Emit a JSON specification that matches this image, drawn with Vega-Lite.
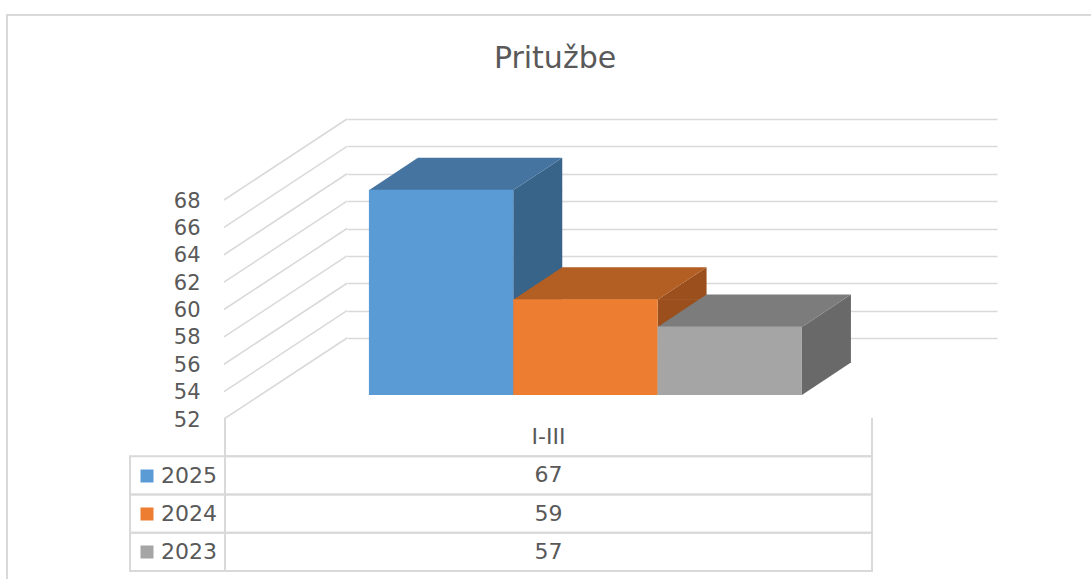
{
  "$schema": "https://vega.github.io/schema/vega-lite/v6.json",
  "width": 650,
  "height": 219,
  "autosize": "none",
  "padding": {"left": 347, "top": 119, "right": 94, "bottom": 241},
  "background": "white",
  "config": {
    "view": {"stroke": null},
    "font": "DejaVu Sans",
    "axisY": {
      "title": null, "domain": false, "ticks": false, "tickSize": 0,
      "grid": true, "gridColor": "#d9d9d9", "gridWidth": 1.5,
      "labelFont": "DejaVu Sans", "labelFontSize": 21, "labelColor": "#595959",
      "labelOffset": 82, "labelPadding": 147
    }
  },
  "datasets": {
    "complaints": [
      {"year": "2025", "value": 67, "period": "I-III"},
      {"year": "2024", "value": 59, "period": "I-III"},
      {"year": "2023", "value": 57, "period": "I-III"}
    ],
    "ticks": [
      {"tick": 52}, {"tick": 54}, {"tick": 56}, {"tick": 58}, {"tick": 60},
      {"tick": 62}, {"tick": 64}, {"tick": 66}, {"tick": 68}
    ],
    "header": [{"period": "I-III"}]
  },
  "title": {
    "text": "Pritužbe",
    "font": "DejaVu Sans",
    "fontSize": 30,
    "fontWeight": "normal",
    "color": "#595959",
    "anchor": "middle",
    "frame": "group",
    "dx": -117,
    "offset": -84,
    "baseline": "alphabetic"
  },
  "layer": [
    {
      "encoding": {
        "y": {
          "type": "quantitative",
          "scale": {"domain": [52, 68], "nice": false, "zero": false},
          "axis": {"title": null, "values": [52, 54, 56, 58, 60, 62, 64, 66, 68]}
        }
      },
      "layer": [
        {
          "data": {"name": "ticks"},
          "mark": {"type": "rule", "color": "#d9d9d9", "strokeWidth": 1.5, "xOffset": -123, "yOffset": 81},
          "encoding": {
            "x": {"value": 0},
            "x2": {"value": 0},
            "y": {"field": "tick", "type": "quantitative"},
            "y2": {"field": "tick"}
          }
        },
        {
          "data": {"name": "complaints"},
          "mark": {"type": "bar", "width": 49, "xOffset": 96.67, "yOffset": 57, "y2Offset": 25},
          "encoding": {
            "x": {"field": "year", "type": "nominal", "sort": ["2025", "2024", "2023"],
                  "scale": {"type": "band", "domain": ["2025", "2024", "2023"], "paddingInner": 0, "paddingOuter": 0.7517, "align": 0.101}, "axis": null},
            "y": {"field": "value", "type": "quantitative"},
            "y2": {"datum": 52},
            "color": {"field": "year", "type": "nominal", "scale": {"domain": ["2025", "2024", "2023"], "range": ["#396489", "#9a4f1c", "#696969"]}, "legend": null}
          }
        },
        {
          "data": {"name": "complaints"},
          "mark": {"type": "point", "filled": true, "opacity": 1, "size": 4, "strokeWidth": 0, "yOffset": 57,
                   "shape": "M72.17,0.5L121.17,-32L121.17,0.5Z"},
          "encoding": {
            "x": {"field": "year", "type": "nominal", "scale": {"type": "band", "domain": ["2025", "2024", "2023"], "paddingInner": 0, "paddingOuter": 0.7517, "align": 0.101}, "axis": null},
            "y": {"field": "value", "type": "quantitative"},
            "color": {"field": "year", "type": "nominal", "scale": {"domain": ["2025", "2024", "2023"], "range": ["#396489", "#9a4f1c", "#696969"]}, "legend": null}
          }
        },
        {
          "data": {"name": "complaints"},
          "mark": {"type": "point", "filled": true, "opacity": 1, "size": 4, "strokeWidth": 0, "yOffset": 57,
                   "shape": "M72.17,-32.5L121.17,-32.5L72.17,0Z"},
          "encoding": {
            "x": {"field": "year", "type": "nominal", "scale": {"type": "band", "domain": ["2025", "2024", "2023"], "paddingInner": 0, "paddingOuter": 0.7517, "align": 0.101}, "axis": null},
            "y": {"datum": 52, "type": "quantitative"},
            "color": {"field": "year", "type": "nominal", "scale": {"domain": ["2025", "2024", "2023"], "range": ["#396489", "#9a4f1c", "#696969"]}, "legend": null}
          }
        },
        {
          "data": {"name": "complaints"},
          "mark": {"type": "point", "filled": true, "opacity": 1, "size": 4, "strokeWidth": 0, "yOffset": 57,
                   "shape": "M-72.17,0.5L72.17,0.5L121.17,-32L-23.17,-32Z"},
          "encoding": {
            "x": {"field": "year", "type": "nominal", "scale": {"type": "band", "domain": ["2025", "2024", "2023"], "paddingInner": 0, "paddingOuter": 0.7517, "align": 0.101}, "axis": null},
            "y": {"field": "value", "type": "quantitative"},
            "color": {"field": "year", "type": "nominal", "scale": {"domain": ["2025", "2024", "2023"], "range": ["#4574a0", "#b35e22", "#7c7c7c"]}, "legend": null}
          }
        },
        {
          "data": {"name": "complaints"},
          "mark": {"type": "bar", "yOffset": 57, "y2Offset": 57},
          "encoding": {
            "x": {"field": "year", "type": "nominal", "scale": {"type": "band", "domain": ["2025", "2024", "2023"], "paddingInner": 0, "paddingOuter": 0.7517, "align": 0.101}, "axis": null},
            "y": {"field": "value", "type": "quantitative"},
            "y2": {"datum": 52},
            "color": {
              "field": "year", "type": "nominal",
              "scale": {"domain": ["2025", "2024", "2023"], "range": ["#5b9bd5", "#ed7d31", "#a5a5a5"]},
              "legend": {
                "orient": "none", "legendX": -211, "legendY": 346, "title": null,
                "symbolType": "square", "symbolSize": 169, "symbolStrokeWidth": 0,
                "labelFont": "DejaVu Sans", "labelFontSize": 22, "labelColor": "#595959",
                "rowPadding": 16, "labelOffset": 3, "padding": 0
              }
            }
          }
        }
      ],
      "resolve": {"scale": {"color": "independent"}}
    },
    {
      "layer": [
        {
          "data": {"name": "header"},
          "mark": {"type": "bar", "fill": "transparent", "stroke": "#d9d9d9", "strokeWidth": 2, "width": 1093, "height": 585, "xOffset": 5, "yOffset": -129.6},
          "encoding": {
            "x": {"field": "period", "type": "nominal", "scale": {"type": "band", "domain": ["I-III"], "range": [-122, 525], "paddingInner": 0, "paddingOuter": 0}, "axis": null},
            "y": {"datum": "hdr", "type": "nominal", "scale": {"type": "band", "domain": ["hdr", "2025", "2024", "2023"], "range": [299, 452], "paddingInner": 0, "paddingOuter": 0}, "axis": null}
          }
        },
        {
          "data": {"name": "header"},
          "mark": {"type": "bar", "fill": "transparent", "stroke": "#d9d9d9", "strokeWidth": 2, "strokeDash": [0, 647, 724]},
          "encoding": {
            "x": {"field": "period", "type": "nominal", "axis": null},
            "y": {"datum": "hdr", "type": "nominal", "axis": null}
          }
        },
        {
          "data": {"name": "complaints"},
          "mark": {"type": "bar", "fill": "transparent", "stroke": "#d9d9d9", "strokeWidth": 2},
          "encoding": {
            "x": {"field": "period", "type": "nominal", "axis": null},
            "y": {"field": "year", "type": "nominal", "axis": null}
          }
        },
        {
          "data": {"name": "complaints"},
          "mark": {"type": "bar", "fill": "transparent", "stroke": "#d9d9d9", "strokeWidth": 2, "width": 95, "xOffset": -371},
          "encoding": {
            "x": {"field": "period", "type": "nominal", "axis": null},
            "y": {"field": "year", "type": "nominal", "axis": null}
          }
        },
        {
          "data": {"name": "complaints"},
          "mark": {"type": "text", "font": "DejaVu Sans", "fontSize": 22, "color": "#595959"},
          "encoding": {
            "x": {"field": "period", "type": "nominal", "axis": null},
            "y": {"field": "year", "type": "nominal", "axis": null},
            "text": {"field": "value", "type": "quantitative"}
          }
        },
        {
          "data": {"name": "header"},
          "mark": {"type": "text", "font": "DejaVu Sans", "fontSize": 22, "color": "#595959"},
          "encoding": {
            "x": {"field": "period", "type": "nominal", "axis": null},
            "y": {"datum": "hdr", "type": "nominal", "axis": null},
            "text": {"field": "period", "type": "nominal"}
          }
        }
      ]
    }
  ],
  "resolve": {"scale": {"x": "independent", "y": "independent", "color": "independent"}}
}
